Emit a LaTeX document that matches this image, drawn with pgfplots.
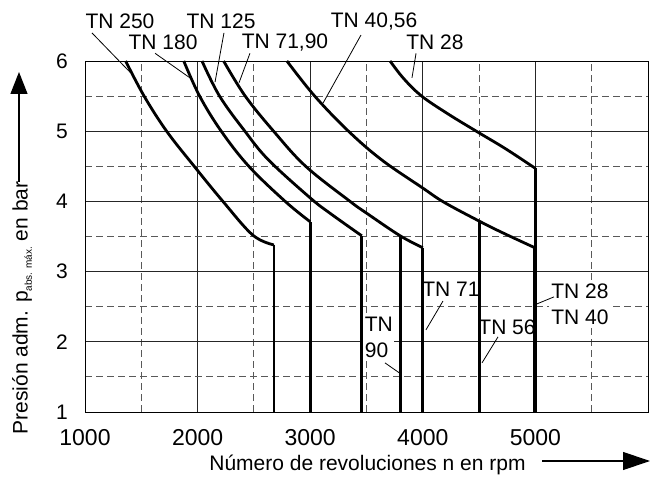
\documentclass[border=0pt]{standalone}
\usepackage{fontspec}
\setmainfont{Liberation Sans}
\usepackage{pgfplots}
\pgfplotsset{compat=1.18}
\usetikzlibrary{arrows.meta}
\begin{document}
\fontsize{21bp}{25bp}\selectfont
\begin{tikzpicture}[curve/.style={black, line width=2.8bp, no marks, line join=round}]
\path[use as bounding box] (-85bp,-73bp) rectangle (565bp,412bp);
\begin{axis}[
  at={(0,0)}, anchor=south west,
  scale only axis, width=563bp, height=351bp,
  xmin=1000, xmax=6000, ymin=1, ymax=6,
  xtick={1000,2000,3000,4000,5000}, ytick={1,2,3,4,5,6},
  minor xtick={1500,2500,3500,4500,5500},
  minor ytick={1.5,2.5,3.5,4.5,5.5},
  grid=both,
  major grid style={black!85, line width=0.9bp},
  minor grid style={black!65, line width=0.9bp, dash pattern=on 7bp off 4bp},
  major tick length=0pt, minor tick length=0pt,
  axis line style={black, line width=0.9bp},
  /pgf/number format/assume math mode=true,
  /pgf/number format/1000 sep={},
  xticklabel style={font=\fontsize{23bp}{27bp}\selectfont, yshift=-10bp},
  yticklabel style={font=\fontsize{21bp}{25bp}\selectfont, xshift=-10bp},
  clip=false,
]
% labels with white background
\node[fill=white, inner sep=1.5bp] at (axis cs:4250,2.75) {TN 71};
\node[fill=white, inner sep=1.5bp, align=left, anchor=west, font=\fontsize{21bp}{26bp}\selectfont] at (axis cs:3470,2.07) {TN\\90};
\node[fill=white, inner sep=1.5bp] at (axis cs:4748,2.21) {TN 56};
\node[fill=white, inner sep=2bp, align=center, font=\fontsize{21bp}{26bp}\selectfont] at (axis cs:5396,2.54) {TN 28\\TN 40};
% labels above
\node at (axis cs:1311,6.56) {TN 250};
\node at (axis cs:1693,6.26) {TN 180};
\node at (axis cs:2208,6.56) {TN 125};
\node at (axis cs:2776,6.26) {TN 71,90};
\node at (axis cs:3567,6.56) {TN 40,56};
\node at (axis cs:4108,6.26) {TN 28};
% leaders
\draw[line width=0.8bp] (axis cs:1062,6.40) -- (axis cs:1400,5.84);
\draw[line width=0.8bp] (axis cs:1622,6.11) -- (axis cs:1932,5.76);
\draw[line width=0.8bp] (axis cs:2234,6.40) -- (axis cs:2155,5.70);
\draw[line width=0.8bp] (axis cs:2465,6.11) -- (axis cs:2368,5.69);
\draw[line width=0.8bp] (axis cs:3451,6.37) -- (axis cs:3114,5.40);
\draw[line width=0.8bp] (axis cs:3940,6.11) -- (axis cs:3904,5.76);
\draw[line width=0.8bp] (axis cs:4179,2.58) -- (axis cs:4028,2.17);
\draw[line width=0.8bp] (axis cs:3664,1.70) -- (axis cs:3789,1.56);
\draw[line width=0.8bp] (axis cs:4668,2.07) -- (axis cs:4526,1.70);
\draw[line width=0.8bp] (axis cs:5165,2.64) -- (axis cs:5014,2.54);
% TN 250
\addplot[curve, smooth, tension=0.6] coordinates {(1361,6) (1525,5.5) (1725,5.0) (1970,4.5) (2225,4.0) (2490,3.52) (2678,3.38)};
\addplot[curve] coordinates {(2678,3.38) (2678,1)};
% TN 180
\addplot[curve, smooth, tension=0.6] coordinates {(1877,6) (2018,5.5) (2210,5) (2455,4.5) (2778,4.0) (3000,3.71)};
\addplot[curve] coordinates {(3000,3.71) (3000,1)};
% TN 125
\addplot[curve, smooth, tension=0.6] coordinates {(2039,6) (2195,5.5) (2420,5) (2630,4.59) (3000,4.05) (3177,3.83) (3458,3.51)};
\addplot[curve] coordinates {(3458,3.51) (3458,1)};
% TN 71,90
\addplot[curve, smooth, tension=0.6] coordinates {(2231,6) (2423,5.5) (2675,5) (2960,4.5) (3354,4.0) (3503,3.83) (3799,3.51) (4000,3.34)};
\addplot[curve] coordinates {(3799,3.51) (3799,1)};
\addplot[curve] coordinates {(4000,3.34) (4000,1)};
% TN 40,56
\addplot[curve, smooth, tension=0.6] coordinates {(2793,6) (3040,5.5) (3340,5.0) (3636,4.59) (4000,4.19) (4186,3.99) (4500,3.72) (4700,3.56) (4995,3.34)};
\addplot[curve] coordinates {(4500,3.72) (4500,1)};
\addplot[curve] coordinates {(4995,3.34) (4995,1)};
% TN 28
\addplot[curve, smooth, tension=0.6] coordinates {(3709,6) (3830,5.75) (3990,5.5) (4220,5.25) (4475,5.0) (4735,4.75) (5000,4.47)};
\addplot[curve] coordinates {(5000,4.47) (5000,1)};
\end{axis}
% axis titles with arrows
\node[rotate=90] at (-63bp,104bp) {Presión adm. p\raisebox{-0.2em}{\fontsize{10bp}{12bp}\selectfont abs. máx.} en bar};
\draw[line width=1.2bp, -{Triangle[length=22bp,width=17bp]}] (-66bp,230bp) -- (-66bp,340bp);
\node[anchor=base] at (282.5bp,-58bp) {Número de revoluciones n en rpm};
\draw[line width=1.2bp, -{Triangle[length=27bp,width=18bp]}] (457bp,-49bp) -- (565bp,-49bp);
\end{tikzpicture}
\end{document}
